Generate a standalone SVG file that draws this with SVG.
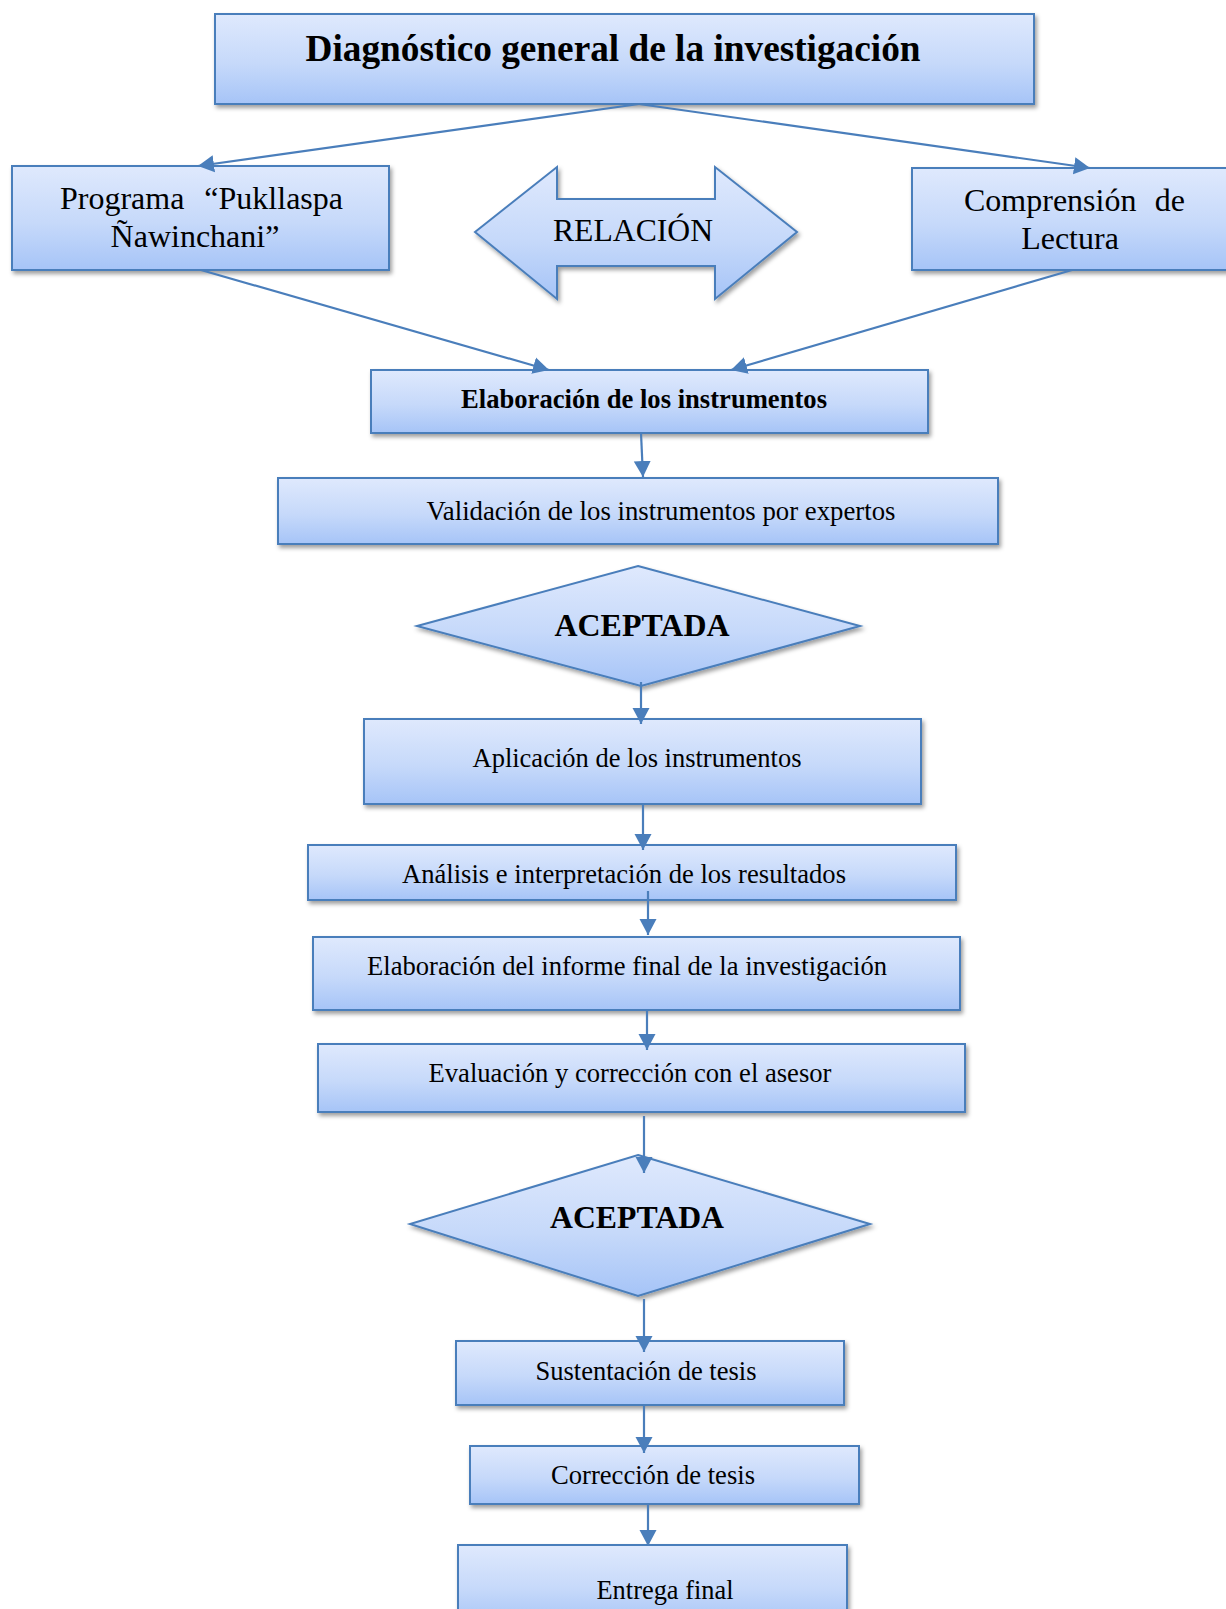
<svg xmlns="http://www.w3.org/2000/svg" width="1226" height="1609" viewBox="0 0 1226 1609">
  <defs>
    <linearGradient id="fillBlue" x1="0" y1="0" x2="0" y2="1">
      <stop offset="0" stop-color="#dfe9fd"/>
      <stop offset="0.55" stop-color="#c6d9fa"/>
      <stop offset="1" stop-color="#a6c4f7"/>
    </linearGradient>
    <filter id="shadow" x="-10%" y="-20%" width="125%" height="150%">
      <feDropShadow dx="2" dy="3" stdDeviation="2.2" flood-color="#000" flood-opacity="0.38"/>
    </filter>
    <marker id="arrow" markerUnits="userSpaceOnUse" markerWidth="18" markerHeight="18" refX="16" refY="9" orient="auto">
      <path d="M0,0.5 L16,9 L0,17.5 Z" fill="#4a7ebb"/>
    </marker>
    <style>
      .box { fill: url(#fillBlue); stroke: #4a7ebb; stroke-width: 2; filter: url(#shadow); }
      .conn { fill: none; stroke: #4a7ebb; stroke-width: 2.2; marker-end: url(#arrow); }
      .t { font-family: "Liberation Serif", "Times New Roman", serif; fill: #000; text-anchor: middle; }
      .b { font-weight: bold; }
      .body { font-size: 26.5px; }
      .big { font-size: 32px; }
    </style>
  </defs>

  <!-- top heading -->
  <g id="diagnostico">
    <rect class="box" x="215" y="14" width="819" height="90"/>
    <text class="t b" x="613" y="61" font-size="37" textLength="615" lengthAdjust="spacingAndGlyphs">Diagnóstico general de la investigación</text>
  </g>

  <g id="programa">
    <rect class="box" x="12" y="166" width="377" height="104"/>
    <text class="t big" y="209"><tspan x="60" text-anchor="start">Programa</tspan><tspan x="343" text-anchor="end">“Pukllaspa</tspan></text>
    <text class="t big" x="195" y="247">Ñawinchani”</text>
  </g>

  <g id="relacion">
    <path class="box" d="M475,232 L557,167 L557,199 L715,199 L715,167 L797,232 L715,299 L715,266 L557,266 L557,299 Z"/>
    <text class="t big" x="633" y="241" textLength="160" lengthAdjust="spacingAndGlyphs">RELACIÓN</text>
  </g>

  <g id="comprension">
    <rect class="box" x="912" y="168" width="320" height="102"/>
    <text class="t big" y="211"><tspan x="964" text-anchor="start">Comprensión</tspan><tspan x="1185" text-anchor="end">de</tspan></text>
    <text class="t big" x="1070" y="249">Lectura</text>
  </g>

  <g id="elaboracion-instrumentos">
    <rect class="box" x="371" y="370" width="557" height="63"/>
    <text class="t b body" x="644" y="408" textLength="366" lengthAdjust="spacingAndGlyphs">Elaboración de los instrumentos</text>
  </g>

  <g id="validacion">
    <rect class="box" x="278" y="478" width="720" height="66"/>
    <text class="t body" x="661" y="520" textLength="469" lengthAdjust="spacingAndGlyphs">Validación de los instrumentos por expertos</text>
  </g>

  <g id="aceptada-1">
    <polygon class="box" points="638,566 860,626 641,686 417,626"/>
    <text class="t b" x="642" y="636" font-size="31.5" textLength="175" lengthAdjust="spacingAndGlyphs">ACEPTADA</text>
  </g>

  <g id="aplicacion">
    <rect class="box" x="364" y="719" width="557" height="85"/>
    <text class="t body" x="637" y="767" textLength="329" lengthAdjust="spacingAndGlyphs">Aplicación de los instrumentos</text>
  </g>

  <g id="analisis">
    <rect class="box" x="308" y="845" width="648" height="55"/>
    <text class="t body" x="624" y="883" textLength="444" lengthAdjust="spacingAndGlyphs">Análisis e interpretación de los resultados</text>
  </g>

  <g id="informe-final">
    <rect class="box" x="313" y="937" width="647" height="73"/>
    <text class="t body" x="627" y="975" textLength="520" lengthAdjust="spacingAndGlyphs">Elaboración del informe final de la investigación</text>
  </g>

  <g id="evaluacion">
    <rect class="box" x="318" y="1044" width="647" height="68"/>
    <text class="t body" x="630" y="1082" textLength="403" lengthAdjust="spacingAndGlyphs">Evaluación y corrección con el asesor</text>
  </g>

  <g id="aceptada-2">
    <polygon class="box" points="638,1155 870,1224 638,1296 410,1224"/>
    <text class="t b" x="637" y="1228" font-size="31.5" textLength="174" lengthAdjust="spacingAndGlyphs">ACEPTADA</text>
  </g>

  <g id="sustentacion">
    <rect class="box" x="456" y="1341" width="388" height="64"/>
    <text class="t body" x="646" y="1380" textLength="221" lengthAdjust="spacingAndGlyphs">Sustentación de tesis</text>
  </g>

  <g id="correccion">
    <rect class="box" x="470" y="1446" width="389" height="58"/>
    <text class="t body" x="653" y="1484" textLength="204" lengthAdjust="spacingAndGlyphs">Corrección de tesis</text>
  </g>

  <g id="entrega-final">
    <rect class="box" x="458" y="1545" width="389" height="80"/>
    <text class="t body" x="665" y="1599" textLength="137" lengthAdjust="spacingAndGlyphs">Entrega final</text>
  </g>

  <!-- connectors, drawn over the shapes they join -->
  <g id="connectors">
    <line class="conn" x1="639" y1="104" x2="198" y2="166"/>
    <line class="conn" x1="639" y1="104" x2="1090" y2="168"/>
    <line class="conn" x1="201" y1="270" x2="549" y2="370"/>
    <line class="conn" x1="1072" y1="270" x2="731" y2="370"/>
    <line class="conn" x1="641" y1="433" x2="643" y2="477"/>
    <line class="conn" x1="641" y1="682" x2="641" y2="724"/>
    <line class="conn" x1="643" y1="804" x2="643" y2="850"/>
    <line class="conn" x1="648" y1="891" x2="648" y2="935"/>
    <line class="conn" x1="647" y1="1010" x2="647" y2="1050"/>
    <line class="conn" x1="644" y1="1116" x2="644" y2="1173"/>
    <line class="conn" x1="644" y1="1299" x2="644" y2="1352"/>
    <line class="conn" x1="644" y1="1405" x2="644" y2="1453"/>
    <line class="conn" x1="648" y1="1504" x2="648" y2="1546"/>
  </g>
</svg>
